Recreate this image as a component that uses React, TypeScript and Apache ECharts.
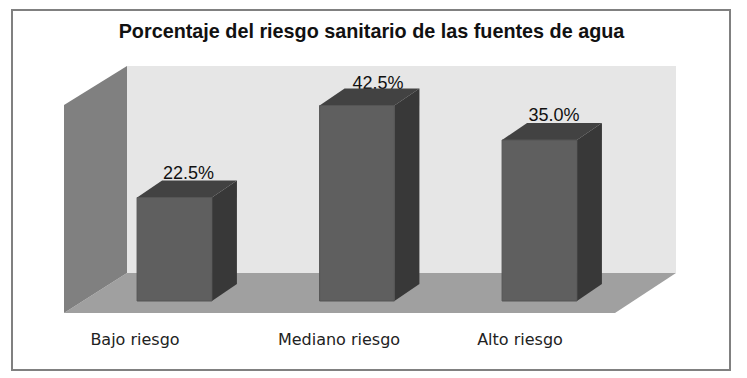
import React, { useEffect, useRef } from "react";
import * as echarts from "echarts";

const titleText = "Porcentaje del riesgo sanitario de las fuentes de agua";
const categories = ["Bajo riesgo", "Mediano riesgo", "Alto riesgo"];
const values = [22.5, 42.5, 35.0];
const labelPadding = [79, 36, 39];
const valueLabelShift = [14, 21, 14.5];
const valueLabelDrop = [1, 3, 1];

const DX = 25;
const DY = 17;

function renderBar(params: any, api: any) {
  const i = api.value(0);
  const v = api.value(1);
  const top = api.coord([i, v]);
  const base = api.coord([i, 0]);
  const w = api.size([1, 0])[0] * 0.41;
  const x0 = top[0] - w / 2;
  const x1 = top[0] + w / 2;
  const y0 = top[1];
  const y1 = base[1];
  return {
    type: "group",
    children: [
      {
        type: "text",
        z2: 1,
        style: {
          x: top[0] + valueLabelShift[i],
          y: y0 - DY + valueLabelDrop[i],
          text: v.toFixed(1) + "%",
          align: "center",
          verticalAlign: "bottom",
          fill: "#111111",
          font: '18px "Liberation Sans"',
        },
      },
      {
        type: "polygon",
        z2: 2,
        shape: { points: [[x0, y0], [x1, y0], [x1 + DX, y0 - DY], [x0 + DX, y0 - DY]] },
        style: { fill: "#424242" },
      },
      {
        type: "polygon",
        z2: 2,
        shape: { points: [[x1, y0], [x1 + DX, y0 - DY], [x1 + DX, y1 - DY], [x1, y1]] },
        style: { fill: "#383838" },
      },
      {
        type: "rect",
        z2: 3,
        shape: { x: x0, y: y0, width: w, height: y1 - y0 },
        style: { fill: "#5f5f5f", stroke: "#555555", lineWidth: 1 },
      },
    ],
  };
}

const rich: any = {};
labelPadding.forEach((p, i) => {
  rich["c" + i] = {
    padding: [0, p, 0, 0],
    fontFamily: "DejaVu Sans",
    fontSize: 16,
    color: "#222222",
  };
});

export default function App() {
  const ref = useRef<HTMLDivElement>(null);
  useEffect(() => {
    const chart = echarts.init(ref.current!, null, { renderer: "svg" });
    chart.setOption({
      animation: false,
      backgroundColor: "#ffffff",
      title: {
        text: titleText,
        left: 366.5,
        top: 16,
        textAlign: "center",
        textStyle: {
          fontFamily: "Liberation Sans",
          fontSize: 19.8,
          fontWeight: "bold",
          color: "#111111",
        },
      },
      grid: { left: 83.25, width: 547.5, top: 71, height: 230 },
      xAxis: {
        type: "category",
        data: categories,
        axisLine: { show: false },
        axisTick: { show: false },
        axisLabel: {
          margin: 30,
          interval: 0,
          formatter: (v: string) => `{c${categories.indexOf(v)}|${v}}`,
          rich,
        },
      },
      yAxis: { type: "value", min: 0, max: 50, show: false, splitLine: { show: false } },
      graphic: [
        { type: "rect", z: 0, shape: { x: 12, y: 10, width: 718, height: 360 }, style: { fill: "#fff", stroke: "#808080", lineWidth: 2 } },
        { type: "polygon", z: 0, shape: { points: [[127, 66], [676, 66], [676, 273], [127, 273]] }, style: { fill: "#e6e6e6" } },
        { type: "polygon", z: 0, shape: { points: [[64, 313], [127, 273], [676, 273], [615, 313]] }, style: { fill: "#a0a0a0" } },
        { type: "polygon", z: 0, shape: { points: [[64, 105], [127, 66], [127, 273], [64, 313]] }, style: { fill: "#808080" } },
      ],
      series: [
        {
          type: "custom",
          renderItem: renderBar,
          data: values.map((v, i) => [i, v]),
          encode: { x: 0, y: 1 },
          clip: false,
        },
      ],
    });
    return () => chart.dispose();
  }, []);
  return <div ref={ref} style={{ position: "fixed", left: 0, top: 0, width: 747, height: 378 }} />;
}
